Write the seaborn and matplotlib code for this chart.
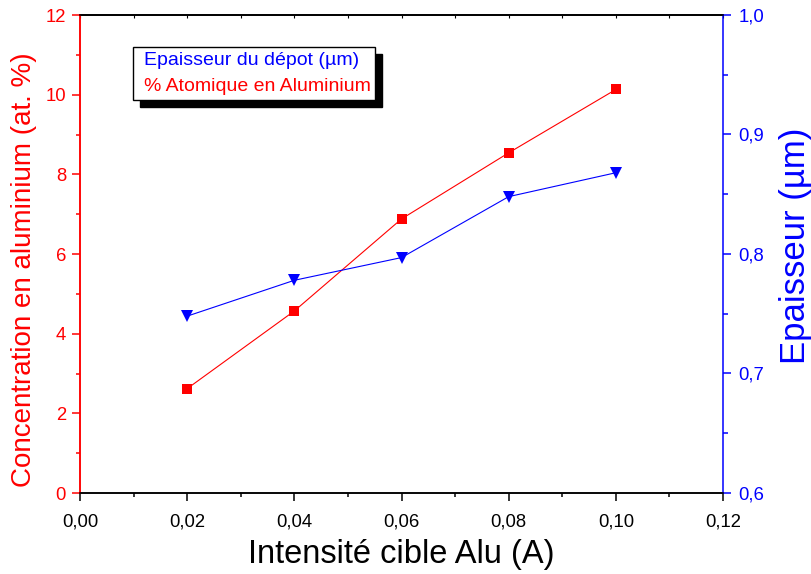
import matplotlib
matplotlib.use("Agg")
import matplotlib.pyplot as plt
import seaborn as sns
import numpy as np
from matplotlib.ticker import FuncFormatter, MultipleLocator
from matplotlib.lines import Line2D

# Data
intensite = [0.02, 0.04, 0.06, 0.08, 0.10]
concentration_al = [2.62, 4.57, 6.88, 8.54, 10.13]
epaisseur = [0.748, 0.778, 0.797, 0.848, 0.868]
label_epaisseur = "Epaisseur du dépot (µm)"
label_atomique = "% Atomique en Aluminium"

sns.set_style("ticks")
plt.rcParams['font.family'] = ['Liberation Sans', 'DejaVu Sans']

fig = plt.figure(figsize=(8.11, 5.74), dpi=100)
ax = fig.add_axes([80/811, 1-493/574, 643/811, 478/574])
ax2 = ax.twinx()

RED = '#FF0000'
BLUE = '#0000FF'

sns.lineplot(x=intensite, y=concentration_al, ax=ax, color=RED, marker='s',
             markersize=6.5, linewidth=0.8, markeredgewidth=0)
sns.lineplot(x=intensite, y=epaisseur, ax=ax2, color=BLUE, marker='v',
             markersize=9, linewidth=0.8, markeredgewidth=0)

ax.set_xlim(0, 0.12)
ax.set_ylim(0, 12)
ax2.set_ylim(0.6, 1.0)

ax.xaxis.set_major_locator(MultipleLocator(0.02))
ax.xaxis.set_minor_locator(MultipleLocator(0.01))
ax.yaxis.set_major_locator(MultipleLocator(2))
ax.yaxis.set_minor_locator(MultipleLocator(1))
ax2.yaxis.set_major_locator(MultipleLocator(0.1))
ax2.yaxis.set_minor_locator(MultipleLocator(0.05))

ax.xaxis.set_major_formatter(FuncFormatter(lambda v, p: f"{v:.2f}".replace('.', ',')))
ax.yaxis.set_major_formatter(FuncFormatter(lambda v, p: f"{v:.0f}"))
ax2.yaxis.set_major_formatter(FuncFormatter(lambda v, p: f"{v:.1f}".replace('.', ',')))

for a in (ax, ax2):
    for s in a.spines.values():
        s.set_visible(True)
        s.set_linewidth(1.1)
        s.set_color('black')
ax2.spines['left'].set_color(RED)
ax2.spines['right'].set_color(BLUE)
ax.spines['left'].set_color(RED)
ax.spines['right'].set_visible(False)

LS = 13.3
ax.tick_params(axis='x', which='major', direction='out', length=6, width=1.1,
               colors='black', labelsize=LS, pad=9)
ax.tick_params(axis='x', which='minor', direction='out', length=3, width=1.1, colors='black')
ax.tick_params(axis='y', which='major', direction='out', length=6, width=1.1,
               colors=RED, labelsize=LS, pad=4)
ax.tick_params(axis='y', which='minor', direction='out', length=3, width=1.1, colors=RED)
ax2.tick_params(axis='y', which='major', direction='out', length=6, width=1.1,
                colors=BLUE, labelsize=LS, pad=5)
ax2.tick_params(axis='y', which='minor', direction='out', length=3.5, width=1.1, colors=BLUE)

sec = ax.secondary_xaxis('top')
sec.xaxis.set_major_locator(MultipleLocator(0.01))
sec.tick_params(direction='in', length=2, width=0.8, labeltop=False, colors='black')
sec.spines['top'].set_linewidth(1.1)

ax.set_xlabel("Intensité cible Alu (A)", fontsize=23.5, color='black', labelpad=6)
ax.set_ylabel("Concentration en aluminium (at. %)", fontsize=20, color=RED)
ax.yaxis.set_label_coords((37-80)/643, (493-270)/478)
ax2.set_ylabel("Epaisseur (µm)", fontsize=25, color=BLUE)
ax2.yaxis.set_label_coords((779-80)/643, (493-246)/478)

handles = [Line2D([], [], linestyle='none', color=BLUE),
           Line2D([], [], linestyle='none', color=RED)]
leg = ax2.legend(handles, [label_epaisseur, label_atomique],
                 loc='upper left', bbox_to_anchor=((133-80)/643, (493-47)/478),
                 borderaxespad=0, fancybox=False, frameon=True,
                 handlelength=0, handletextpad=0.3, labelcolor=[BLUE, RED],
                 fontsize=14, labelspacing=0.4, borderpad=0.25,
                 shadow={'ox': 5, 'oy': -5, 'facecolor': 'black', 'edgecolor': 'black', 'alpha': 1})
leg.get_frame().set_edgecolor('black')
leg.get_frame().set_linewidth(1.0)
leg.get_frame().set_alpha(1)

fig.savefig("out.png", dpi=100)
